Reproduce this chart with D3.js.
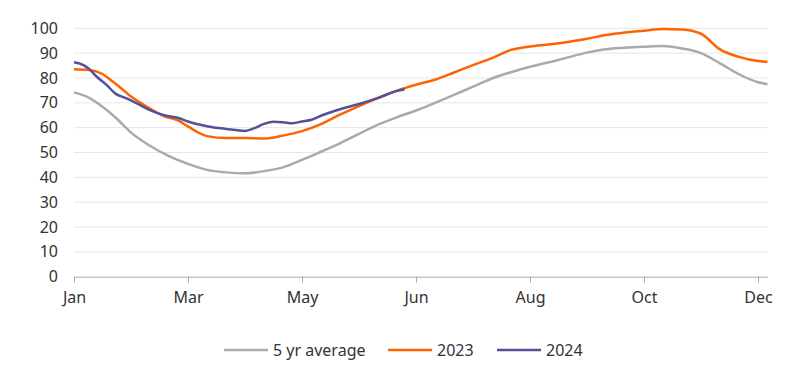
<!DOCTYPE html>
<html><head><meta charset="utf-8">
<script src="https://cdn.jsdelivr.net/npm/d3@7"></script>
<style>body{margin:0;background:#fff;}svg{display:block;font-family:"Noto Sans",sans-serif;}</style>
</head><body><svg id="c" width="800" height="381"></svg>
<script>
const daysAvg = [0,8,15,22,30,40,50,60,70,80,90,100,110,120,130,140,150,160,170,180,190,200,210,220,230,240,250,260,270,280,290,300,310,320,330,340,350,360,365];
const avg5 = [74.2,72,68.4,64,58,52.7,48.5,45.4,43,42,41.6,42.5,44,47,50.3,53.7,57.5,61.2,64.2,66.9,70,73.2,76.5,79.8,82.3,84.5,86.3,88.3,90.2,91.6,92.2,92.6,92.9,91.9,90,85.9,81.5,78.3,77.5];
const days2023 = [0,8,15,20,25,30,35,40,47,55,60,65,70,80,90,100,110,120,130,140,150,160,170,180,190,200,210,220,230,240,250,260,270,280,290,300,310,320,330,340,350,360,365];
const y2023 = [83.5,83.2,81.6,78.8,75.8,72.5,70,67.7,64.8,62.8,60.5,58.2,56.6,55.8,55.8,55.6,56.8,58.6,61.4,65.2,68.7,71.9,74.9,77.3,79.3,82.2,85.2,88,91.3,92.7,93.5,94.5,95.8,97.3,98.3,99,99.7,99.5,97.8,91.5,88.5,86.8,86.5];
const days2024 = [0,5,8,12,17,22,27,32,40,47,55,60,70,80,90,95,100,105,110,115,120,125,130,140,150,160,170,174];
const y2024 = [86.3,85.2,83.6,80.5,77.3,73.6,72,70.2,67.1,65.1,63.9,62.5,60.6,59.5,58.7,59.8,61.5,62.4,62.2,61.8,62.5,63.2,64.8,67.4,69.5,72,74.8,75.5];
const xTicks = [0,60,120,180,240,300,360];
const xLabels = ["Jan","Mar","May","Jun","Aug","Oct","Dec"];
const yTicks = [0,10,20,30,40,50,60,70,80,90,100];
const seriesNames = ["5 yr average","2023","2024"];
const colors = ["#aaaaaa","#ff6200","#525199"];

const svg = d3.select("#c");
const x = d3.scaleLinear().domain([0,365]).range([74,767.5]);
const y = d3.scaleLinear().domain([0,100]).range([276.7,28.3]);

svg.append("g").selectAll("line").data(yTicks.filter(d=>d>0)).join("line")
  .attr("x1",74).attr("x2",767.5).attr("y1",d=>y(d)).attr("y2",d=>y(d))
  .attr("stroke","#e6e6e6").attr("stroke-width",1);

const ya = svg.append("g").attr("transform","translate(74,0)")
  .call(d3.axisLeft(y).tickValues(yTicks).tickSize(0).tickPadding(16));
ya.select(".domain").remove();
ya.selectAll("text").attr("font-size",16).attr("fill","#333").attr("font-family","'Noto Sans',sans-serif");

const xa = svg.append("g").attr("transform",`translate(0,${y(0)})`)
  .call(d3.axisBottom(x).tickValues(xTicks).tickFormat((d,i)=>xLabels[i]).tickSize(6).tickPadding(9).tickSizeOuter(0));
xa.select(".domain").attr("stroke","#aaaaaa");
xa.selectAll(".tick line").attr("stroke","#aaaaaa");
xa.selectAll("text").attr("font-size",16).attr("fill","#333").attr("font-family","'Noto Sans',sans-serif");

const line = d3.line().x(d=>x(d[0])).y(d=>y(d[1])).curve(d3.curveMonotoneX);
const seriesData = [
  daysAvg.map((d,i)=>[d,avg5[i]]),
  days2023.map((d,i)=>[d,y2023[i]]),
  days2024.map((d,i)=>[d,y2024[i]])
];
seriesData.forEach((s,i)=>{
  svg.append("path").datum(s).attr("d",line).attr("fill","none")
    .attr("stroke",colors[i]).attr("stroke-width",2.5).attr("stroke-linejoin","round");
});

const legX = [224,388,497];
const lg = svg.append("g");
seriesNames.forEach((n,i)=>{
  lg.append("line").attr("x1",legX[i]).attr("x2",legX[i]+44).attr("y1",350).attr("y2",350)
    .attr("stroke",colors[i]).attr("stroke-width",2.5);
  lg.append("text").attr("x",legX[i]+49).attr("y",355.5).text(n)
    .attr("font-size",16).attr("fill","#333");
});
</script></body></html>
